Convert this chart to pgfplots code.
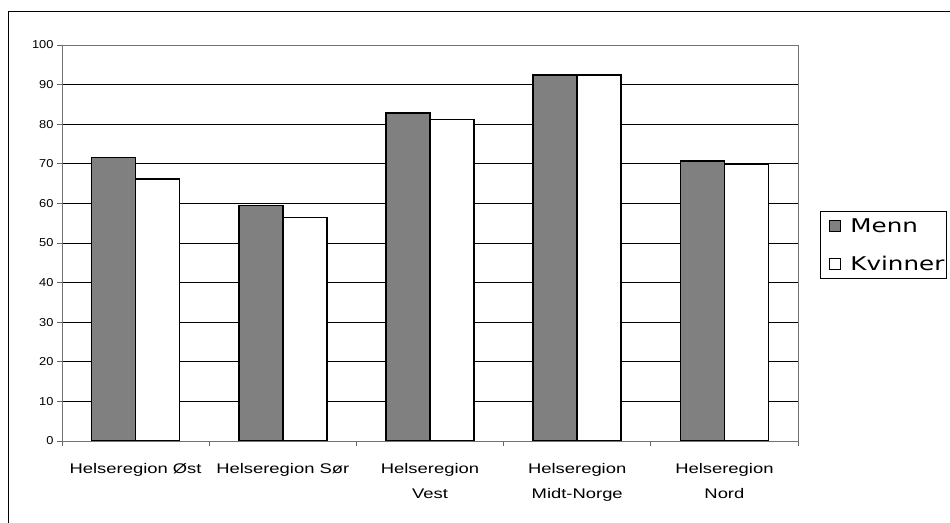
\documentclass[border=0pt]{standalone}
\usepackage{fontspec}
\setmainfont{Liberation Sans}
\newfontfamily\catfont[FakeStretch=1.32]{Liberation Sans}
\newfontfamily\tickfont[FakeStretch=1.12]{Liberation Sans}
\newfontfamily\legfont[FakeStretch=1.3]{DejaVu Sans}
\usepackage{pgfplots}
\pgfplotsset{compat=1.18}
\begin{document}
\begin{tikzpicture}[x=1bp,y=1bp]
\useasboundingbox (0,0) rectangle (950,523);
\draw[line width=1bp] (8,-5) -- (8,511) -- (960,511);
\begin{axis}[
  at={(62bp,82bp)}, anchor=south west,
  scale only axis, width=736bp, height=396bp,
  xmin=-0.5, xmax=4.5, ymin=0, ymax=100,
  axis line style={draw=black!55, line width=0.9bp},
  ytick={0,10,...,100},
  ymajorgrids, grid style={draw=black, line width=0.8bp},
  xtick={-0.5,0.5,...,4.5},
  xticklabels={Helseregion Øst,Helseregion Sør,Helseregion\\Vest,Helseregion\\Midt-Norge,Helseregion\\Nord},
  x tick label as interval,
  tick align=outside, major tick length=5bp,
  tick style={draw=black!60, line width=0.9bp},
  xtick pos=bottom, ytick pos=left,
  /pgf/number format/assume math mode=true,
  yticklabel style={font=\tickfont\fontsize{11.5}{13}\selectfont, xshift=0bp},
  xticklabel style={font=\catfont\fontsize{14}{25}\selectfont, align=center, yshift=-14bp},
  ybar, bar width=44bp,
  legend style={at={(1.0299,0.5808)}, anchor=north west, draw=black, line width=0.8bp,
    font=\legfont\fontsize{19}{22}\selectfont, inner xsep=0bp, inner ysep=5bp, row sep=18bp},
  legend cell align=left,
  legend image code/.code={\path[draw=none,fill=none] (0bp,0bp) -- (28bp,0bp); \draw[#1, line width=0.8bp] (9bp,-5.5bp) rectangle (20bp,5.5bp);},
]
\addplot[draw=black, fill=black!50, line width=1.5bp, bar shift=-22bp] coordinates {(0,71.6) (1,59.5) (2,82.8) (3,92.4) (4,70.7)};
\addplot[draw=black, fill=white, line width=1.5bp, bar shift=22bp] coordinates {(0,66.1) (1,56.5) (2,81.2) (3,92.4) (4,70.0)};
\legend{Menn,Kvinner}
\end{axis}
\end{tikzpicture}
\end{document}
